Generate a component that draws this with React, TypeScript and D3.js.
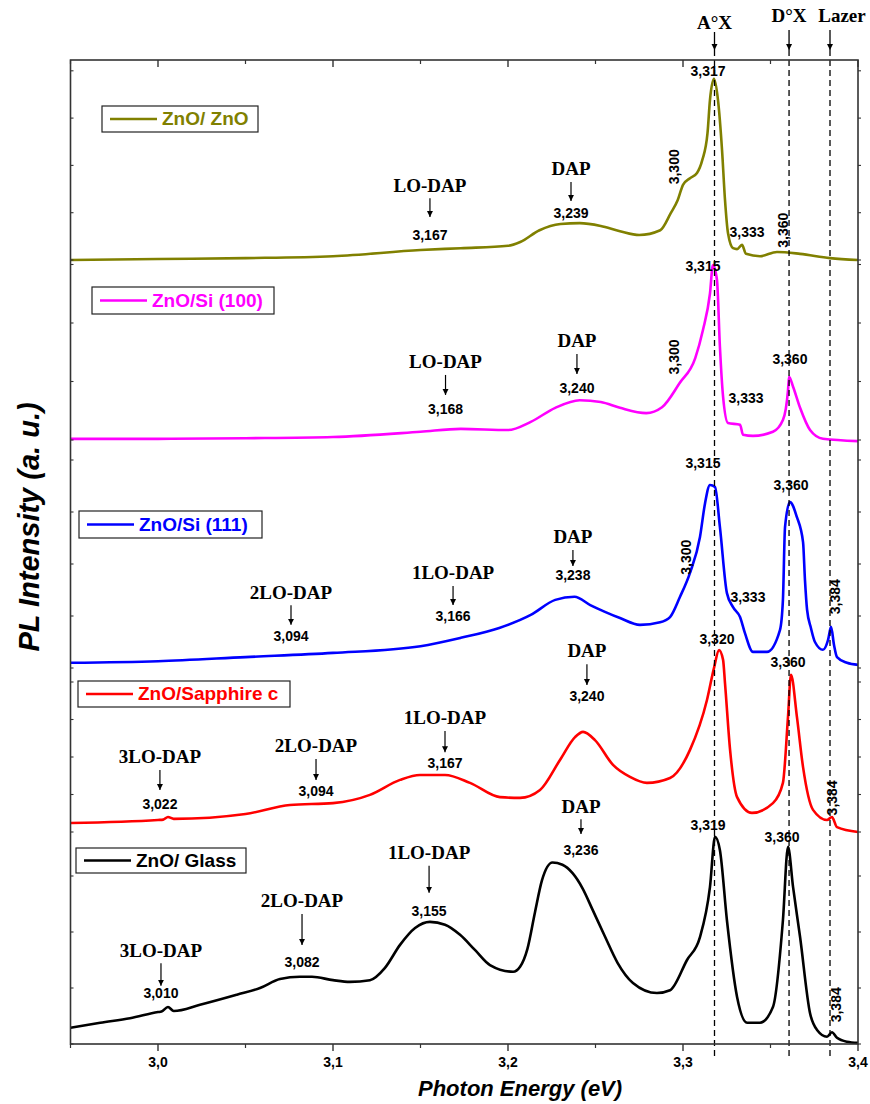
import React from 'react';
import * as d3 from 'd3';

// PL spectra, [photon energy (eV), intensity (a.u., stacked panel units)]
const znoOnZnO: [number, number][] = [
  [2.95, 0.0], [3.0, 0.02], [3.05, 0.04], [3.1, 0.08], [3.15, 0.21], [3.173, 0.25], [3.2, 0.3],
  [3.207, 0.38], [3.218, 0.63], [3.23, 0.76], [3.241, 0.78], [3.253, 0.72], [3.264, 0.61],
  [3.275, 0.53], [3.287, 0.63], [3.293, 0.99], [3.297, 1.27], [3.3, 1.59], [3.304, 1.73],
  [3.308, 1.84], [3.311, 2.11], [3.314, 2.68], [3.3154, 3.38], [3.3177, 3.83], [3.32, 3.38],
  [3.3223, 2.33], [3.324, 1.27], [3.3257, 0.57], [3.3286, 0.25], [3.3309, 0.23], [3.3337, 0.32],
  [3.336, 0.13], [3.344, 0.08], [3.3537, 0.17], [3.3669, 0.13], [3.384, 0.04], [3.4, 0.0],
];
const znoOnSi100: [number, number][] = [
  [2.95, 0.02], [3.0, 0.02], [3.05, 0.03], [3.1, 0.05], [3.15, 0.14], [3.173, 0.19], [3.2, 0.17],
  [3.213, 0.31], [3.227, 0.55], [3.241, 0.68], [3.253, 0.65], [3.264, 0.55], [3.279, 0.46],
  [3.288, 0.56], [3.298, 0.97], [3.307, 1.4], [3.3114, 1.88], [3.3154, 2.5], [3.3171, 2.99],
  [3.3194, 2.74], [3.3211, 1.59], [3.3229, 0.74], [3.3257, 0.29], [3.3326, 0.26], [3.3343, 0.09],
  [3.34, 0.07], [3.3514, 0.14], [3.3571, 0.34], [3.36, 0.85], [3.3606, 1.08], [3.3629, 0.91],
  [3.3669, 0.55], [3.3726, 0.17], [3.38, 0.02], [3.4, -0.02],
];
const znoOnSi111: [number, number][] = [
  [2.95, 0.1], [3.0, 0.13], [3.05, 0.21], [3.1, 0.29], [3.15, 0.42], [3.173, 0.58], [3.195, 0.77],
  [3.213, 1.02], [3.227, 1.31], [3.238, 1.37], [3.247, 1.21], [3.2554, 1.08], [3.264, 0.96],
  [3.2754, 0.83], [3.2869, 0.88], [3.2926, 0.98], [3.2983, 1.37], [3.304, 1.83], [3.3097, 2.52],
  [3.3126, 3.17], [3.3154, 3.52], [3.3183, 3.48], [3.3211, 2.71], [3.3251, 1.44], [3.3286, 1.17],
  [3.3326, 0.98], [3.3354, 0.67], [3.34, 0.31], [3.348, 0.31], [3.3554, 0.73], [3.3571, 1.31],
  [3.3583, 2.71], [3.3611, 3.19], [3.3651, 2.9], [3.3686, 2.42], [3.3697, 1.69], [3.3709, 1.12],
  [3.3731, 0.77], [3.3754, 0.5], [3.38, 0.35], [3.3829, 0.54], [3.3846, 0.79], [3.3863, 0.44],
  [3.388, 0.21], [3.3937, 0.1], [3.4, 0.06],
];
const znoOnSapphire: [number, number][] = [
  [2.95, 0.24], [3.0, 0.32], [3.003, 0.33], [3.0057, 0.4], [3.009, 0.35], [3.05, 0.48],
  [3.0754, 0.72], [3.1, 0.77], [3.1211, 0.99], [3.1383, 1.39], [3.1497, 1.52], [3.164, 1.52],
  [3.1783, 1.31], [3.1954, 0.93], [3.2069, 0.91], [3.2183, 1.12], [3.2297, 1.92], [3.2383, 2.53],
  [3.2429, 2.67], [3.2497, 2.45], [3.26, 1.79], [3.2697, 1.47], [3.2794, 1.31], [3.2926, 1.44],
  [3.304, 2.19], [3.3137, 3.52], [3.3177, 4.37], [3.3206, 4.85], [3.3229, 4.59], [3.324, 3.97],
  [3.3269, 2.19], [3.3309, 0.93], [3.3394, 0.51], [3.3514, 0.77], [3.3571, 1.31], [3.36, 3.07],
  [3.3617, 4.19], [3.3651, 3.07], [3.3686, 1.73], [3.3743, 0.59], [3.3823, 0.32], [3.3851, 0.4],
  [3.388, 0.13], [3.4, 0.0],
];
const znoOnGlass: [number, number][] = [
  [2.95, 0.29], [2.967, 0.38], [2.984, 0.46], [3.0, 0.57], [3.002, 0.58], [3.0057, 0.66],
  [3.009, 0.59], [3.024, 0.7], [3.0451, 0.88], [3.0583, 1.0], [3.0697, 1.16], [3.0811, 1.2],
  [3.088, 1.2], [3.1, 1.14], [3.1097, 1.11], [3.1211, 1.14], [3.1297, 1.36], [3.1383, 1.77],
  [3.1469, 2.07], [3.1554, 2.18], [3.164, 2.13], [3.1726, 1.95], [3.1811, 1.68], [3.1897, 1.41],
  [3.2029, 1.29], [3.2069, 1.38], [3.2111, 1.7], [3.2154, 2.35], [3.2194, 2.92], [3.2254, 3.24],
  [3.2311, 3.2], [3.2369, 3.05], [3.2426, 2.78], [3.2483, 2.4], [3.2554, 1.92], [3.2626, 1.45],
  [3.2714, 1.09], [3.2851, 0.91], [3.2926, 0.96], [3.3023, 1.5], [3.3097, 1.91], [3.3154, 2.8],
  [3.3183, 3.7], [3.3211, 3.46], [3.3251, 2.21], [3.3309, 0.84], [3.3366, 0.38], [3.344, 0.38],
  [3.3514, 0.66], [3.3571, 2.21], [3.36, 3.52], [3.3629, 2.8], [3.3669, 1.91], [3.3726, 0.55],
  [3.3766, 0.25], [3.3823, 0.13], [3.3851, 0.21], [3.388, 0.11], [3.3937, 0.04], [3.4, 0.02],
];

const seriesNames = ['ZnO/ ZnO', 'ZnO/Si (100)', 'ZnO/Si (111)', 'ZnO/Sapphire c', 'ZnO/ Glass'];
const seriesColors = ['#808000', '#ff00ff', '#0000ff', '#ff0000', '#000000'];
const seriesData = [znoOnZnO, znoOnSi100, znoOnSi111, znoOnSapphire, znoOnGlass];

const xTicks = [3.0, 3.1, 3.2, 3.3, 3.4];
const xTickLabels = ['3,0', '3,1', '3,2', '3,3', '3,4'];
const xMinorTicks = [2.95, 3.05, 3.15, 3.25, 3.35];

// reference lines
const markerNames = ['A°X', 'D°X', 'Lazer'];
const markerEnergies = [3.318, 3.3606, 3.384];

// phonon replica groups: [panel, name, value, energy, vName, vTip, vValue]
const replicaGroups: [number, string, string, number, number, number, number][] = [
  [0, 'LO-DAP', '3,167', 3.1554, 1.54, 0.91, 0.51],
  [0, 'DAP', '3,239', 3.236, 1.88, 1.25, 0.97],
  [1, 'LO-DAP', '3,168', 3.1643, 1.3, 0.77, 0.5],
  [1, 'DAP', '3,240', 3.2394, 1.66, 1.13, 0.87],
  [2, '2LO-DAP', '3,094', 3.076, 1.42, 0.83, 0.6],
  [2, '1LO-DAP', '3,166', 3.1686, 1.79, 1.21, 0.98],
  [2, 'DAP', '3,238', 3.2371, 2.48, 1.96, 1.77],
  [3, '3LO-DAP', '3,022', 3.0011, 1.95, 1.12, 0.72],
  [3, '2LO-DAP', '3,094', 3.0903, 2.24, 1.39, 1.07],
  [3, '1LO-DAP', '3,167', 3.164, 2.99, 2.13, 1.81],
  [3, 'DAP', '3,240', 3.2451, 4.77, 3.92, 3.6],
  [4, '3LO-DAP', '3,010', 3.0017, 1.64, 1.04, 0.88],
  [4, '2LO-DAP', '3,082', 3.0823, 2.52, 1.77, 1.45],
  [4, '1LO-DAP', '3,155', 3.1549, 3.38, 2.7, 2.36],
  [4, 'DAP', '3,236', 3.2417, 4.21, 3.75, 3.45],
];

// peak labels: [panel, text, energy, value, rotated]
const peakLabels: [number, string, number, number, boolean][] = [
  [0, '3,317', 3.3143, 3.97, false],
  [0, '3,333', 3.3366, 0.57, false],
  [0, '3,300', 3.2954, 1.97, true],
  [0, '3,360', 3.3577, 0.63, true],
  [1, '3,315', 3.3114, 2.96, false],
  [1, '3,333', 3.336, 0.7, false],
  [1, '3,360', 3.3611, 1.37, false],
  [1, '3,300', 3.2954, 1.42, true],
  [2, '3,315', 3.3114, 3.92, false],
  [2, '3,333', 3.3371, 1.35, false],
  [2, '3,360', 3.3617, 3.5, false],
  [2, '3,300', 3.3023, 2.13, true],
  [2, '3,384', 3.3874, 1.37, true],
  [3, '3,320', 3.3194, 5.12, false],
  [3, '3,360', 3.36, 4.51, false],
  [3, '3,384', 3.3857, 0.91, true],
  [4, '3,319', 3.3143, 3.88, false],
  [4, '3,360', 3.3566, 3.68, false],
  [4, '3,384', 3.388, 0.7, true],
];

const W = 870;
const H = 1104;
const left = 70.5;
const right = 858;
const top = 60;
const bottom = 1044;

// stacked layers: zero line and one tick step in px
const panels = [
  { zero: 260, step: 47.3, n: 4 },
  { zero: 440, step: 58.5, n: 3 },
  { zero: 668, step: 52, n: 4 },
  { zero: 832, step: 37.5, n: 4 },
  { zero: 1044, step: 56, n: 3 },
];

const legendBoxes = [
  { x: 102, y: 106, w: 156, h: 26 },
  { x: 92, y: 287, w: 182, h: 27 },
  { x: 79, y: 511, w: 183, h: 27 },
  { x: 78, y: 681, w: 212, h: 26 },
  { x: 76, y: 848, w: 170, h: 25 },
];

const sans = 'Arial, "Liberation Sans", sans-serif';
const serif = '"Times New Roman", "Liberation Serif", serif';

export default function App() {
  const x = d3.scaleLinear([2.95, 3.4], [left, right]);
  const ys = panels.map(p => d3.scaleLinear([0, 1], [p.zero, p.zero - p.step]));

  const paths = seriesData.map((d, i) =>
    d3.line<[number, number]>()
      .x(p => x(p[0]))
      .y(p => ys[i](p[1]))
      .curve(d3.curveMonotoneX)(d) || ''
  );

  return (
    <svg width={W} height={H} style={{ display: 'block', position: 'absolute', left: 0, top: 0, background: '#fff' }}>
      <defs>
        <marker id="ah" viewBox="0 0 10 10" refX="10" refY="5" markerWidth="6" markerHeight="8" orient="auto" markerUnits="userSpaceOnUse">
          <path d="M0,0 L10,5 L0,10 z" fill="#000" />
        </marker>
      </defs>
      <rect x={0} y={0} width={W} height={H} fill="#fff" />

      {paths.map((d, i) => (
        <path key={i} d={d} fill="none" stroke={seriesColors[i]} strokeWidth={2.6} strokeLinejoin="round" />
      ))}

      {/* dashed reference lines */}
      {markerEnergies.map((e, i) => (
        <g key={i}>
          <line x1={x(e)} x2={x(e)} y1={50} y2={1059} stroke="#000" strokeWidth={1.3} strokeDasharray="6,4" />
          <line x1={x(e)} x2={x(e)} y1={i === 0 ? 32 : 30} y2={50} stroke="#000" strokeWidth={1.3} markerEnd="url(#ah)" />
          <text x={x(e) + (i === 2 ? 12 : 0)} y={i === 0 ? 25 : 18} textAnchor="middle" dominantBaseline="middle"
            fontFamily={serif} fontWeight="bold" fontSize={19}>{markerNames[i]}</text>
        </g>
      ))}

      {/* frame */}
      <rect x={left} y={top} width={right - left} height={bottom - top} fill="none" stroke="#333" strokeWidth={1.6} />

      {/* x ticks */}
      {xTicks.map((t, i) => (
        <g key={t}>
          <line x1={x(t)} x2={x(t)} y1={bottom} y2={bottom + 7} stroke="#333" strokeWidth={1.4} />
          <line x1={x(t)} x2={x(t)} y1={top} y2={top + 7} stroke="#333" strokeWidth={1.4} />
          <text x={x(t)} y={bottom + 19} textAnchor="middle" dominantBaseline="middle" fontFamily={sans}
            fontWeight="bold" fontSize={14}>{xTickLabels[i]}</text>
        </g>
      ))}
      {xMinorTicks.map(t => (
        <g key={t}>
          <line x1={x(t)} x2={x(t)} y1={bottom} y2={bottom + 4} stroke="#333" strokeWidth={1.2} />
          <line x1={x(t)} x2={x(t)} y1={top} y2={top + 4} stroke="#333" strokeWidth={1.2} />
        </g>
      ))}

      {/* y ticks per layer */}
      {ys.map((y, i) =>
        d3.range(0, panels[i].n + 1).map(t => (
          <g key={`${i}-${t}`}>
            <line x1={left} x2={left + 3} y1={y(t)} y2={y(t)} stroke="#333" strokeWidth={1.1} />
            <line x1={right} x2={right + 3} y1={y(t)} y2={y(t)} stroke="#333" strokeWidth={1.1} />
          </g>
        ))
      )}

      {/* legends */}
      {legendBoxes.map((b, i) => (
        <g key={i}>
          <rect x={b.x} y={b.y} width={b.w} height={b.h} fill="#fff" stroke="#222" strokeWidth={1.2} />
          <line x1={b.x + 8} x2={b.x + 55} y1={b.y + b.h / 2} y2={b.y + b.h / 2} stroke={seriesColors[i]} strokeWidth={2.6} />
          <text x={b.x + 60} y={b.y + b.h / 2 + 1} dominantBaseline="middle" fontFamily={sans} fontWeight="bold"
            fontSize={19} fill={seriesColors[i]}>{seriesNames[i]}</text>
        </g>
      ))}

      {/* replica annotations */}
      {replicaGroups.map(([p, name, val, e, vName, vTip, vValue], i) => {
        const y = ys[p];
        return (
          <g key={i}>
            <text x={x(e)} y={y(vName)} textAnchor="middle" dominantBaseline="middle" fontFamily={serif}
              fontWeight="bold" fontSize={19}>{name}</text>
            <line x1={x(e)} x2={x(e)} y1={y(vName) + 11} y2={y(vTip)} stroke="#000" strokeWidth={1.2} markerEnd="url(#ah)" />
            <text x={x(e)} y={y(vValue)} textAnchor="middle" dominantBaseline="middle" fontFamily={sans}
              fontWeight="bold" fontSize={14}>{val}</text>
          </g>
        );
      })}

      {/* peak labels */}
      {peakLabels.map(([p, t, e, v, rot], i) => (
        <text key={i} x={0} y={0} transform={`translate(${x(e)},${ys[p](v)})${rot ? ' rotate(-90)' : ''}`}
          textAnchor="middle" dominantBaseline="middle" fontFamily={sans} fontWeight="bold" fontSize={14}>{t}</text>
      ))}

      {/* axis titles */}
      <text x={418} y={1090} dominantBaseline="middle" fontFamily={sans} fontWeight="bold" fontStyle="italic"
        fontSize={22}>Photon Energy (eV)</text>
      <text transform="translate(31,527) rotate(-90)" textAnchor="middle" dominantBaseline="middle" fontFamily={sans}
        fontWeight="bold" fontStyle="italic" fontSize={29}>PL Intensity (a. u.)</text>
    </svg>
  );
}
